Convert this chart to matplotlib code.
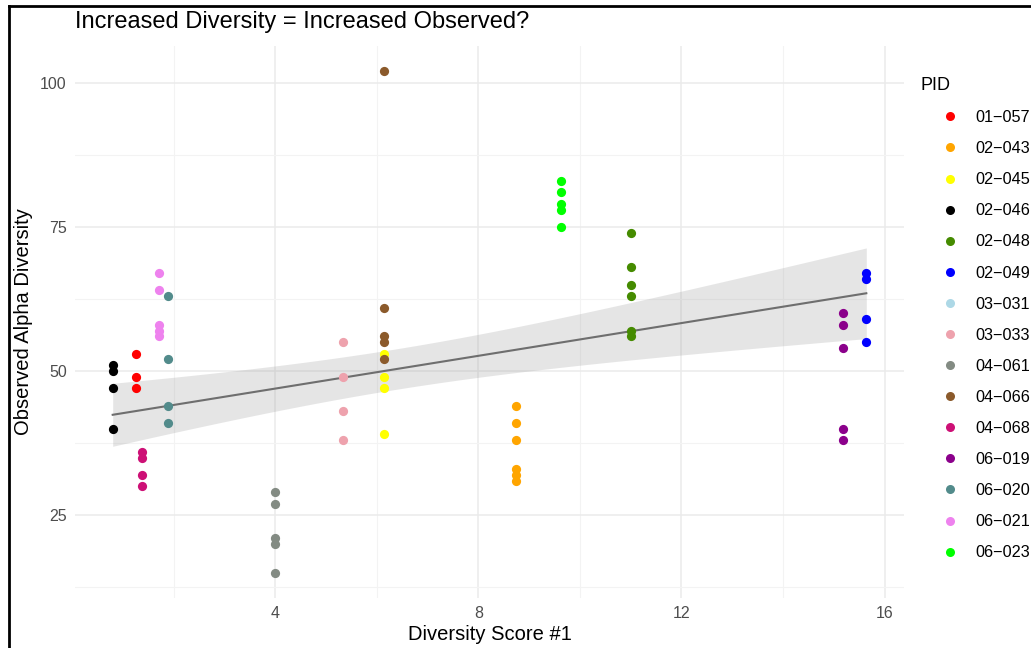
import numpy as np
import pandas as pd
import matplotlib
matplotlib.use("Agg")
import matplotlib.pyplot as plt
from matplotlib.lines import Line2D

plt.rcParams['font.family'] = ['Liberation Sans', 'DejaVu Sans']

# one list per participant: diversity score and observed alpha diversity
pids = ['01-057', '02-043', '02-045', '02-046', '02-048', '02-049', '03-031', '03-033',
        '04-061', '04-066', '04-068', '06-019', '06-020', '06-021', '06-023']
pid_colors = ['#FF0000', '#FFA500', '#FFFF00', '#000000', '#458B00', '#0000FF', '#ADD8E6', '#EEA2AD',
              '#838B83', '#8B5A2B', '#CD1076', '#8B008B', '#528B8B', '#EE82EE', '#00FF00']

score = {
    '01-057': 1.26, '02-043': 8.74, '02-045': 6.15, '02-046': 0.80, '02-048': 11.01,
    '02-049': 15.64, '03-031': None, '03-033': 5.34, '04-061': 4.0, '04-066': 6.15,
    '04-068': 1.38, '06-019': 15.18, '06-020': 1.88, '06-021': 1.71, '06-023': 9.63,
}
observed = {
    '01-057': [53, 49, 47],
    '02-043': [44, 41, 38, 33, 32, 31],
    '02-045': [53, 49, 47, 39],
    '02-046': [51, 50, 47, 40],
    '02-048': [74, 68, 65, 63, 57, 56],
    '02-049': [67, 66, 59, 55],
    '03-031': [],
    '03-033': [55, 49, 43, 38],
    '04-061': [29, 27, 21, 20, 15],
    '04-066': [102, 61, 56, 55, 52],
    '04-068': [36, 35, 32, 30],
    '06-019': [60, 58, 54, 40, 38],
    '06-020': [63, 52, 44, 41],
    '06-021': [67, 64, 58, 57, 56],
    '06-023': [83, 81, 79, 78, 75],
}

# lm smooth: fitted line and 95% band at a few scores
smooth_x = [0.8, 4, 8, 12, 15.64]
smooth_fit = [42.4, 47.0, 52.6, 58.3, 63.5]
smooth_lo = [36.9, 43.2, 48.8, 52.7, 55.6]
smooth_hi = [47.9, 50.8, 56.4, 63.8, 71.3]

rows = []
for p in pids:
    for v in observed[p]:
        rows.append((p, score[p], v))
df = pd.DataFrame(rows, columns=['PID', 'score', 'observed'])

# straight line through the read fit, band half-width squared is quadratic in x
line_coef = np.polyfit(smooth_x, smooth_fit, 1)
half = (np.array(smooth_hi) - np.array(smooth_lo)) / 2
half_coef = np.polyfit(smooth_x, half ** 2, 2)
xs = np.linspace(min(smooth_x), max(smooth_x), 100)
fit = np.polyval(line_coef, xs)
hw = np.sqrt(np.polyval(half_coef, xs))

fig = plt.figure(figsize=(10.31, 6.48), dpi=100)
ax = fig.add_axes([75 / 1031, 1 - 598 / 648, (904 - 75) / 1031, (598 - 46) / 648])

ax.fill_between(xs, fit - hw, fit + hw, color='#999999', alpha=0.25, lw=0, zorder=2)
ax.plot(xs, fit, color='#6E6E6E', lw=1.5, zorder=3)

for p, c in zip(pids, pid_colors):
    sub = df[df['PID'] == p]
    ax.scatter(sub['score'], sub['observed'], s=44, color=c, lw=0, zorder=4)

ax.margins(x=0.05, y=0.05)
ax.set_xticks([4, 8, 12, 16])
ax.set_xticks([2, 6, 10, 14], minor=True)
ax.set_yticks([25, 50, 75, 100])
ax.set_yticks([12.5, 37.5, 62.5, 87.5], minor=True)
ax.grid(which='major', color='#EBEBEB', lw=1.1, zorder=0)
ax.grid(which='minor', color='#F3F3F3', lw=0.8, zorder=0)
ax.set_axisbelow(True)
for sp in ax.spines.values():
    sp.set_visible(False)
ax.tick_params(which='both', length=0, labelsize=11.5, labelcolor='#4D4D4D', pad=6)

ax.set_xlabel('Diversity Score #1', fontsize=14.5, labelpad=3)
ax.set_ylabel('Observed Alpha Diversity', fontsize=14.5, labelpad=5)
fig.text(75 / 1031, 1 - 22 / 648, 'Increased Diversity = Increased Observed?', fontsize=17,
         ha='left', va='center')

handles = [Line2D([], [], marker='o', linestyle='', color=c, markersize=6.5, markeredgewidth=0)
           for c in pid_colors]
labels = [p.replace('-', '\u2212') for p in pids]
leg = ax.legend(handles, labels, title='PID', loc='upper left', frameon=False,
                bbox_to_anchor=(920 / 1031, 1 - 77 / 648), bbox_transform=fig.transFigure,
                fontsize=11.7, title_fontsize=13, labelspacing=0.99, handlelength=3.7,
                handletextpad=-0.3, borderpad=0, borderaxespad=0, alignment='left')

# black frame on the left and top of the original screenshot
fig.add_artist(Line2D([9 / 1031, 9 / 1031], [0, 1 - 6 / 648], color='black', lw=2))
fig.add_artist(Line2D([9 / 1031, 1], [1 - 6 / 648, 1 - 6 / 648], color='black', lw=2))

fig.savefig('out.png', dpi=100)
